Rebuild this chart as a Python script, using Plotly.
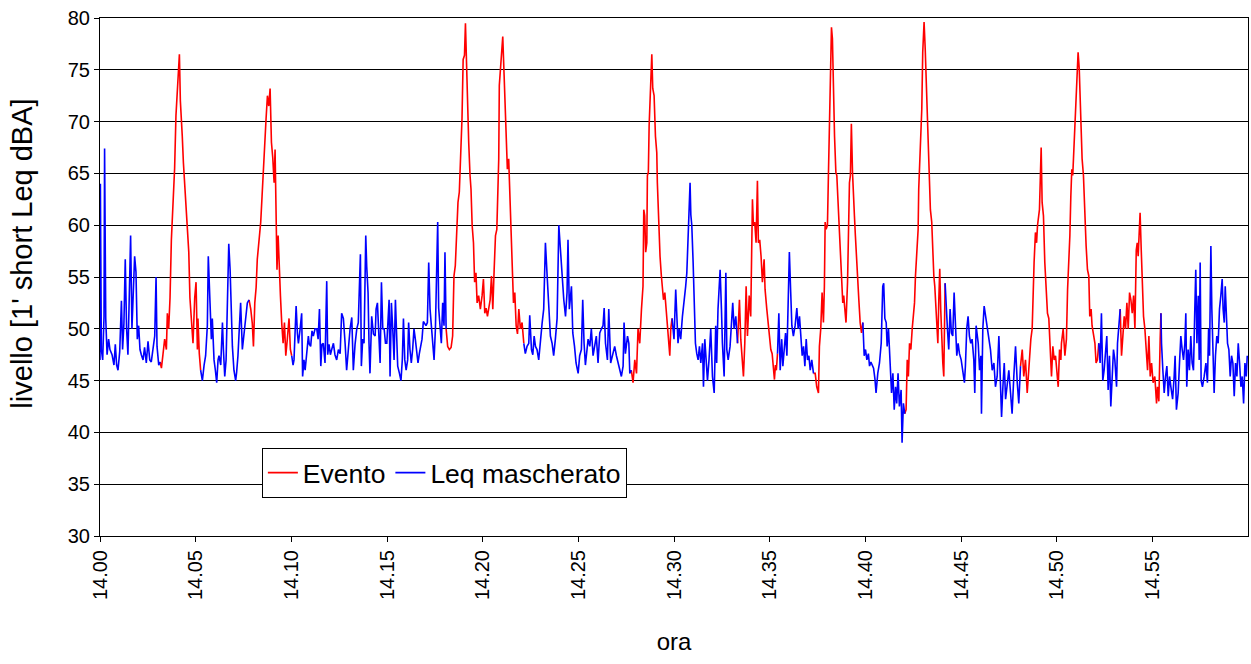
import plotly.graph_objects as go

# time in minutes after 14:00, level in dBA
t_min = [
0.00,0.02,0.07,0.14,0.21,0.24,0.30,0.37,0.45,0.52,0.63,0.73,0.80,0.87,0.94,1.03,1.12,1.18,1.25,1.32,1.39,1.46,1.55,1.60,1.67,1.74,1.81,1.88,1.95,2.02,2.09,2.16,2.25,2.33,2.42,2.51,2.60,2.68,2.77,2.86,2.93,2.98,3.07,3.14,
3.21,3.29,3.38,3.47,3.52,3.59,3.66,3.73,3.82,3.90,3.97,4.04,4.09,4.15,4.20,4.25,4.30,4.36,4.43,4.50,4.57,4.64,4.70,4.77,4.86,4.95,5.02,5.09,5.12,5.19,
5.26,5.35,5.44,5.52,5.61,5.66,5.75,5.82,5.87,5.96,6.03,6.10,6.17,6.22,6.31,6.40,6.45,6.52,6.59,6.66,6.73,6.80,6.87,6.92,7.00,7.09,7.14,7.21,7.28,7.35,7.44,7.53,7.61,7.70,7.79,
7.88,7.96,8.02,8.09,8.16,8.22,8.31,8.40,8.47,8.54,8.61,8.68,8.75,8.82,8.89,8.96,9.03,9.10,9.15,9.20,9.25,9.31,9.37,9.43,9.50,9.57,9.64,9.71,9.79,9.88,9.95,
10.02,10.09,
10.14,10.25,10.32,10.37,10.46,10.54,10.59,10.66,10.72,10.80,10.89,10.94,11.01,11.08,11.15,11.24,11.33,11.40,11.47,11.54,11.60,11.67,11.76,11.85,11.90,11.97,12.04,12.11,12.20,12.28,12.37,12.46,12.55,12.63,12.72,12.81,12.89,12.98,13.07,13.16,13.24,13.33,13.42,13.50,13.56,13.61,13.66,13.73,13.80,13.89,13.94,14.01,14.06,14.11,14.20,14.29,14.38,14.43,14.50,14.57,14.64,14.71,14.78,14.85,14.92,14.99,15.11,
15.16,15.23,15.30,15.37,15.44,15.51,15.56,15.65,15.73,15.80,15.86,15.93,16.00,16.08,16.13,16.20,16.27,16.34,16.41,16.48,16.55,16.62,16.69,16.76,16.83,16.90,16.97,17.04,17.11,17.18,17.25,17.32,17.39,17.46,17.53,17.60,17.65,17.70,17.77,17.84,17.91,17.98,18.03,18.09,
18.17,18.26,18.35,18.43,18.50,18.57,18.64,18.71,18.78,18.85,18.92,18.98,19.05,19.10,19.15,19.22,19.27,19.34,19.39,19.45,19.52,19.58,19.65,19.71,19.79,19.88,19.97,20.04,20.11,
20.18,20.25,20.32,20.39,20.46,20.53,20.60,20.67,20.74,20.81,20.84,20.87,20.93,20.98,21.05,21.12,21.19,21.24,21.29,21.36,21.43,21.50,21.54,21.61,21.68,21.75,21.82,21.89,21.97,22.06,
22.15,22.23,22.32,22.41,22.46,22.55,22.62,22.69,22.76,22.84,22.93,23.02,23.11,23.19,23.28,23.37,23.45,23.54,23.63,23.71,23.80,23.89,23.98,24.06,24.15,24.24,24.33,24.41,24.46,24.53,24.64,24.71,24.80,24.88,24.99,25.07,25.16,
25.23,25.30,25.37,25.42,25.51,25.60,25.68,25.77,25.86,25.94,26.03,26.12,26.21,26.29,26.35,26.42,26.52,26.59,26.69,26.82,26.90,26.99,27.08,27.16,27.25,27.34,27.39,27.46,27.57,27.64,27.69,27.77,
27.86,27.95,28.04,28.12,28.21,28.30,28.38,28.42,28.47,28.52,28.58,28.61,28.66,28.70,28.75,28.80,28.84,28.89,28.96,29.03,29.10,29.13,29.20,29.27,29.34,29.40,29.45,29.52,29.59,29.66,29.73,29.78,29.83,
29.90,30.00,30.09,30.18,
30.21,30.27,30.35,30.44,30.53,30.61,30.67,30.74,30.79,30.84,30.88,30.93,31.00,31.05,31.12,31.19,31.26,31.33,31.40,31.49,31.54,31.61,31.68,31.75,31.83,31.92,32.01,32.10,32.18,32.23,32.30,32.36,32.41,32.48,32.53,32.62,32.71,32.76,32.83,32.93,33.00,33.07,33.14,33.23,33.32,
33.42,33.49,33.56,33.63,33.70,33.77,33.84,33.93,34.01,34.06,34.10,34.15,34.22,34.29,34.36,34.41,34.48,34.55,34.62,34.71,34.76,34.85,34.92,34.99,35.06,35.13,35.20,35.25,35.30,35.35,
35.41,35.48,35.55,35.63,35.69,35.76,35.83,35.90,35.98,36.03,36.10,36.16,36.24,36.33,36.42,36.49,36.56,36.63,36.70,36.77,36.84,36.91,36.98,37.05,37.12,37.20,37.29,
37.38,37.46,37.55,37.60,37.67,37.74,37.81,37.86,37.90,37.95,38.02,38.07,38.13,38.18,38.23,38.28,38.33,38.39,38.46,38.51,38.56,38.61,38.65,38.72,38.77,38.82,38.87,38.94,38.99,39.07,39.12,39.17,39.22,39.27,39.33,39.38,39.43,39.48,39.55,39.61,39.66,39.73,39.80,
39.87,39.94,40.01,40.08,40.16,40.22,
40.29,40.36,40.43,40.50,40.56,40.65,40.74,40.83,40.91,40.96,41.02,41.09,41.14,41.21,41.30,41.37,41.44,41.51,41.58,41.64,41.71,41.78,41.87,41.92,41.99,42.06,
42.13,42.19,42.25,42.31,42.38,42.45,42.52,42.57,42.62,42.66,42.71,42.76,42.79,42.85,42.90,42.95,43.00,43.07,43.13,43.20,43.25,43.30,43.35,43.40,43.47,43.53,43.58,43.63,43.68,43.74,43.79,43.84,43.89,43.94,44.00,44.05,44.10,
44.17,44.22,44.29,44.36,44.43,44.50,44.57,44.64,44.71,44.78,44.85,44.92,45.01,45.09,45.18,45.23,
45.30,45.37,45.44,45.51,45.58,45.67,45.72,45.79,45.90,45.97,46.04,46.07,46.14,46.21,46.28,46.37,46.45,46.54,46.63,46.72,46.80,46.89,46.98,47.06,47.12,47.19,47.26,47.33,47.41,47.50,47.59,47.67,47.76,47.85,47.94,48.02,48.11,
48.20,48.28,48.37,48.46,48.51,48.58,48.65,48.72,48.77,48.82,48.89,48.95,49.00,49.05,49.10,49.15,49.19,49.24,49.31,49.38,49.45,49.52,49.59,49.66,49.73,49.80,49.87,49.94,50.01,50.08,50.15,50.22,
50.25,50.34,50.43,50.51,50.57,50.64,50.69,50.74,50.79,50.84,50.90,50.95,51.00,51.05,51.12,51.18,51.23,51.28,51.33,51.40,51.47,51.54,51.61,51.68,51.73,51.80,51.85,51.92,52.00,52.06,52.13,
52.20,52.27,52.34,52.41,52.48,52.55,52.62,52.69,52.76,52.83,52.90,52.97,53.04,53.13,53.18,53.25,53.32,
53.39,53.46,53.53,53.60,53.67,53.74,53.81,53.88,53.95,54.02,54.09,54.16,54.21,54.26,54.31,54.36,54.42,54.47,54.54,54.61,54.68,54.75,54.82,54.89,54.96,55.04,55.13,55.22,55.27,55.34,55.41,
55.45,55.48,55.55,55.62,55.69,55.76,55.83,55.90,55.97,56.06,56.14,56.19,56.26,56.35,56.42,56.49,56.56,56.63,56.70,56.75,56.80,56.87,56.94,57.01,57.08,57.15,57.22,57.27,57.33,57.40,57.45,57.50,57.55,57.62,57.71,57.80,57.88,57.94,57.99,58.06,58.11,58.16,58.23,58.30,58.37,58.44,58.51,58.58,58.65,58.70,58.76,58.81,58.86,58.93,59.00,59.07,59.14,59.21,59.28,59.35,59.42,59.49,59.56,59.63,59.70,59.77,59.84,59.91,59.96,
]

leq = [
47,64,48,47,51.2,67.4,51,47.5,49,48,47.5,46.5,48.5,46.5,46,47.8,52.7,48,50.5,56.7,50,47.5,54.8,59,50,53,57,55.5,49,50.3,48,47.5,47,48.2,46.7,48.8,47,46.8,48,49.3,55,48.3,46.5,46.8,
46.2,47.5,49,48,51.5,50,53,58.6,62.5,65.5,70.6,73,75.1,76.5,72,70.5,68.6,66,64,62,60,57.4,53,51,48.6,53,54.5,48,51,47.6,
46,45,46.5,47.4,50.3,57,52.5,49,51,47,46,44.8,47,47.4,46.5,50.6,48,45.4,47,52.8,58.2,55.7,50,48.3,46,45,45.8,47.4,50,52.5,48,49.5,50.5,52.5,52.8,
51.9,50.5,48.3,52.5,54,56.7,58.3,60.3,62.8,65.7,69,70.3,72.5,71.5,73.2,68,66.5,64.1,67.3,61,55.7,59,55,53.2,50.5,48.6,50.6,47.4,49,51,48,
47.4,46.5,
47,52.2,49.5,48.6,50,51.5,45.4,47,46,48,49.3,48.5,48.3,49.8,49.3,50,50,49,51.9,46.4,48.5,48.6,46.7,54.6,47.5,48.5,47.5,48,48.6,47.5,47,48,47.6,51.5,51,48.6,46,48,50,51.1,46,48.5,50,50.6,55.6,57.2,46.4,49,48.6,59,56,53.5,48.6,45.7,51.2,49.5,49.3,51.9,52.5,48.6,46.7,54.5,50,50,48.6,48.6,52.8,
45.4,52.5,50,47,52.8,48,46.4,45.7,45,47,51,47,46,47,50.6,48,46.7,48,50,49,47.5,46.7,47.6,48.5,49,50.7,50.5,50.3,50.6,56.4,51.9,50,49,47,50,55.1,60.3,52,50.6,48.6,52.5,50.3,57.4,50,
48.3,48,48.2,49.3,55.1,56.1,60.3,62.2,63.2,67,70.3,76,76.4,79.5,75.4,70.3,68,64.8,63.5,60,58.3,54.5,55.4,52.5,53.2,51.9,53.2,54.8,51.5,
52,51.2,52,52.8,55.1,51.9,55.7,59,59.6,63.5,66.4,73.5,75.4,77,78.2,74.5,71.2,68,65.4,66.4,62.2,58.6,55.1,52.5,53.5,50.3,49.5,51.9,50,50.6,
48.6,47.6,48.3,48.6,51.3,48,47.5,49.3,48.3,48,47,49,50.6,51.9,58.3,55.1,51.9,49.3,48.6,47.4,49,51,60,57.4,55.1,52.8,51.2,53.5,58.6,51.9,54.1,49.6,48.3,46.7,45.7,47.4,48,
52.8,48.6,46.5,47.4,49,48.3,50,47.4,48.6,49.3,46.7,49.6,50,50.3,52,48.6,47,51.9,46.7,47.6,48.3,47.4,46.7,46,45.4,46.4,50.6,47.6,49.3,48.6,45.7,46,
44.8,47,45.7,50,48.6,51.9,54.1,61.5,60.9,57.4,58.3,64.8,65.1,69.6,72.8,75.1,76.5,73.2,72.5,68.6,67,64.1,60.3,57,55.1,53.8,52.8,53.5,51.9,50,48.6,47.4,50,
51,49,53.8,49.3,
48.6,50,49,51.2,52.5,54.1,55.4,58.6,62.5,64.1,61,60,56.4,53.5,48.6,47.6,47,48.3,46.7,48.6,44.4,49,46.4,45,47,50,45.4,43.8,50.3,46.7,51.9,53.8,55.7,51.9,48.6,45.4,55.4,48,47,48.3,51.2,52.5,50,51.2,48.6,
52.8,49,46.7,45.4,48.6,54.1,49.3,53.2,51.2,58.3,62.5,60,60.3,58.3,64.3,58.3,58.6,57,54.5,56.7,53.8,51.9,50.6,48.6,48,47.6,45.7,45.1,46.5,46,
47.6,51.5,46,49,46.4,48.6,49.6,47.4,52.5,57.4,53.5,50.3,49.3,50.3,52,50,51.2,48.6,47.4,48.3,46.4,49,47,47.4,46,47,45.7,
45.7,44.4,43.8,48.3,50,53.5,50.6,54.1,60.3,59.6,60,64.8,70.3,77.7,79.1,78,72.2,68.6,65.1,64.8,62.8,60.9,58.6,56.4,53.8,52.5,53.2,51.9,50.6,54.5,60,64.1,64.8,69.8,65.1,63.5,60.9,59,57,54.5,52.8,50.6,49.6,
50.6,47.4,48,47,47.6,46.4,
46.8,46.5,46.2,45.2,43.8,45.7,46.7,48.6,54.1,54.4,51,50.6,48.3,50,46.4,43.8,45.7,42.2,44.4,42.8,45.7,42.5,44.1,39,42.8,41.8,
42.2,47,45.4,48.6,48,50,51.9,52.5,55.1,56.4,58.3,59.6,63.5,67,70,71.2,76.7,79.6,77,73.2,70,66.7,65.4,61.5,60.3,56.7,55.1,54.1,51.9,50.3,48.6,52.8,55.8,51.9,48,46.7,45.4,
54.4,51.9,50,48,51.9,49.6,49.3,53.5,49.3,47.4,48.6,47.6,47,46,44.8,46.4,
50,51.2,49.3,48.6,49,47,43.8,50.3,48.6,46,47.4,41.8,50,52.2,51.2,50,49,48,46,46.7,44.4,45.4,49.3,43.8,41.5,44.4,46.7,43.2,44.8,46,43.8,41.8,45.4,48.3,44.8,42.8,46.4,
48,45.4,47,43.8,45.4,47.6,49,50,54.1,56.4,59.3,58.3,60,60.9,61.5,64.8,67.5,62.2,60.9,56.4,53.5,51.5,51,48.6,45.4,48.3,47,47.4,45.4,44.4,48,47,
48.6,50,47.4,49,53.8,56.7,59,62.8,65.4,64.8,67.4,69.3,71.2,74.5,76.7,75.1,71.5,69.6,66.4,64.8,60.3,58,55.7,55.1,51.2,51.9,50.3,49.3,48.6,46.7,47,
48.6,46.7,51.5,45,46,47.4,49.3,44.1,47.4,42.5,46,48,47,44.4,48.6,50,51.9,
47.4,49.3,51.2,50,52.5,50,53.5,52.8,51.5,53.2,50,57.6,58.3,57,59,61.2,57.6,55.1,51.2,50,47.4,46,49.3,45.4,46.7,44.8,45.4,42.8,44.4,43,49,
51.5,48.6,46,43.8,45.4,46.4,43.5,45.4,44.4,43.2,45.4,47.4,42.2,43.8,46.7,49.3,48,47,48.6,51.5,44.4,48,46,49.3,46.7,46,51.9,55.7,48.6,53.2,47,56.4,45,44.4,45.4,46.7,44.8,50,47.4,58,51.9,49.3,43.8,47.4,49.3,48.6,51.9,53.2,54.8,51.9,50.6,54.1,51,48.6,48,45.4,47.4,46.7,43.5,46.7,45.4,48.6,46.7,44.4,45.4,42.8,46.7,45.4,47.4,
]

# event intervals (minutes after 14:00)
eventi_inizio = [3.18, 7.84, 18.12, 27.80, 33.36, 37.33, 42.09, 48.15, 53.35]
eventi_fine = [5.22, 9.98, 22.10, 29.86, 35.38, 39.83, 44.13, 52.16, 55.43]

tick_pos = [0, 5, 10, 15, 20, 25, 30, 35, 40, 45, 50, 55]
tick_lab = ["14.00", "14.05", "14.10", "14.15", "14.20", "14.25",
            "14.30", "14.35", "14.40", "14.45", "14.50", "14.55"]

n = min(len(t_min), len(leq))
t_min = t_min[:n]
leq = leq[:n]

in_ev = [any(s <= t <= e for s, e in zip(eventi_inizio, eventi_fine)) for t in t_min]
red_y, blue_y = [], []
for i in range(n):
    red_keep = in_ev[i] or (i > 0 and in_ev[i - 1]) or (i < n - 1 and in_ev[i + 1])
    red_y.append(leq[i] if red_keep else None)
    blue_y.append(leq[i] if not in_ev[i] else None)

fig = go.Figure()
fig.add_trace(go.Scatter(x=t_min, y=red_y, mode="lines", name="Evento",
                         line=dict(color="#ff0000", width=1.6), connectgaps=False))
fig.add_trace(go.Scatter(x=t_min, y=blue_y, mode="lines", name="Leq mascherato",
                         line=dict(color="#0000ff", width=1.6), connectgaps=False))

font = "Liberation Sans, Arial, sans-serif"
fig.update_layout(
    width=1251, height=664,
    margin=dict(l=100, r=3, t=18, b=128),
    paper_bgcolor="white", plot_bgcolor="white",
    font=dict(family=font, size=20, color="black"),
    showlegend=True,
    legend=dict(orientation="h", x=0.141, y=0.17, xanchor="left", yanchor="top",
                bgcolor="white", bordercolor="black", borderwidth=1,
                font=dict(size=26.5), itemwidth=30, tracegroupgap=0),
    xaxis=dict(range=[0, 60], tickmode="array", tickvals=tick_pos, ticktext=tick_lab,
               tickangle=-90, showgrid=False, zeroline=False,
               showline=True, linecolor="black", linewidth=1, mirror=True,
               ticks="outside", ticklen=5, tickcolor="black",
               tickfont=dict(size=20),
               title=dict(text="ora", font=dict(size=24), standoff=34)),
    yaxis=dict(range=[30, 80], dtick=5, tick0=30, showgrid=True, gridcolor="#000000",
               gridwidth=1, zeroline=False,
               showline=True, linecolor="black", linewidth=1, mirror=True,
               ticks="outside", ticklen=5, tickcolor="black",
               tickfont=dict(size=20)),
    annotations=[dict(text="livello [1' short Leq dBA]", textangle=-90,
                      xref="paper", yref="paper", x=-0.068, y=0.545,
                      xanchor="center", yanchor="middle", showarrow=False,
                      font=dict(size=29))],
)

fig.write_html("out.html")
